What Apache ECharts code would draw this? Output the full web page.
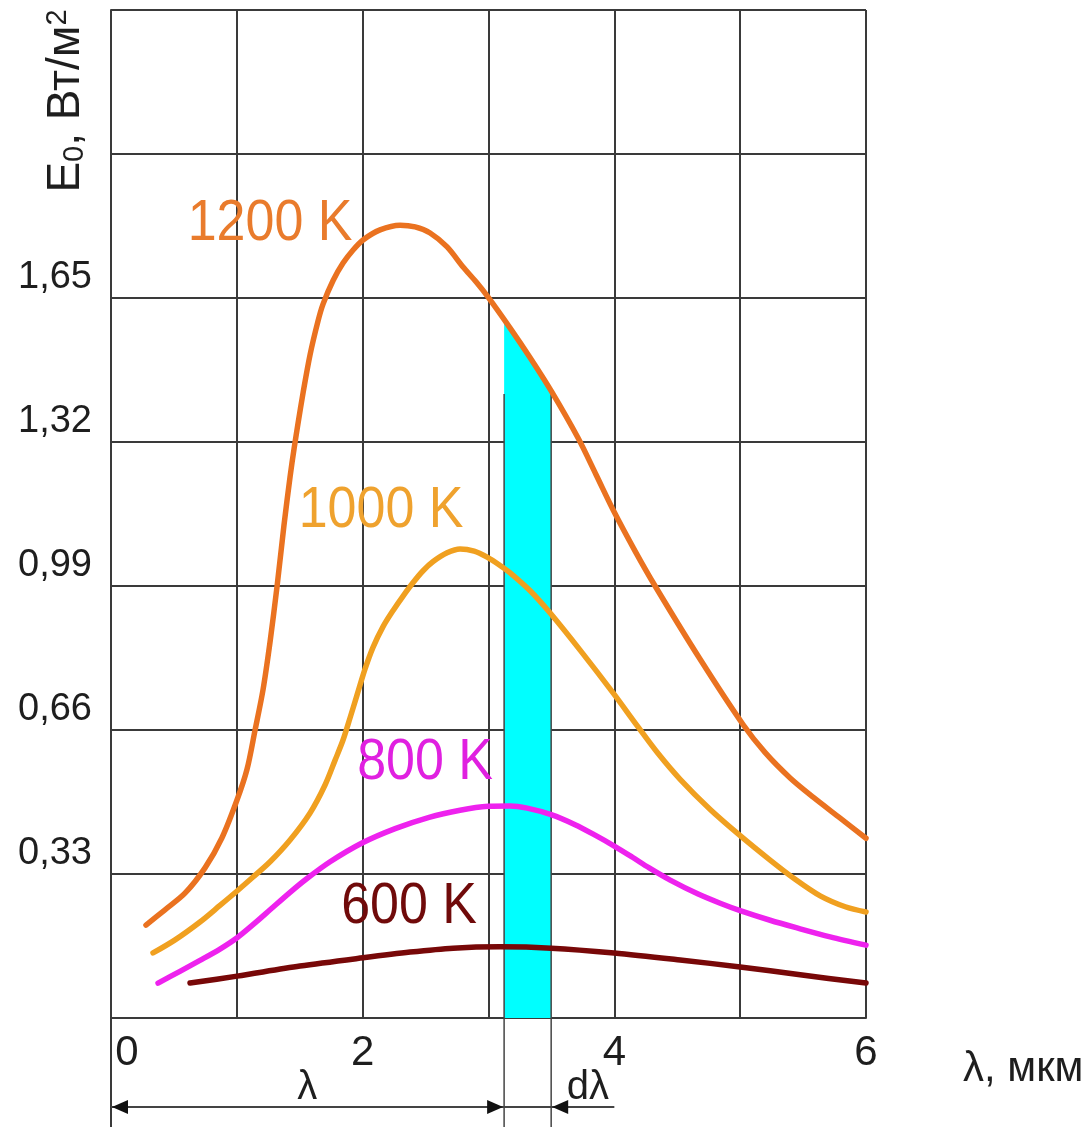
<!DOCTYPE html>
<html>
<head>
<meta charset="utf-8">
<script src="https://cdn.jsdelivr.net/npm/echarts@6/dist/echarts.min.js"></script>
<style>
  html, body { margin: 0; padding: 0; background: #fff; }
  #chart { width: 1083px; height: 1127px; }
</style>
</head>
<body>
<div id="chart"></div>
<script>
// wavelength (mkm) / E0 pairs
const curve1200 = [[0.278, 0.213], [0.429, 0.248], [0.588, 0.286], [0.747, 0.344], [0.882, 0.413],
    [1.002, 0.500], [1.081, 0.570], [1.145, 0.660], [1.208, 0.752], [1.264, 0.862], [1.320, 0.990],
    [1.375, 1.130], [1.423, 1.240], [1.455, 1.305], [1.486, 1.362], [1.526, 1.432], [1.582, 1.520],
    [1.645, 1.597], [1.685, 1.636], [1.765, 1.690], [1.844, 1.730], [1.924, 1.760], [2.003, 1.783],
    [2.138, 1.806], [2.297, 1.817], [2.417, 1.813], [2.536, 1.799], [2.671, 1.767], [2.798, 1.721],
    [2.901, 1.687], [2.997, 1.652], [3.172, 1.581], [3.331, 1.513], [3.498, 1.437], [3.712, 1.329],
    [3.855, 1.245], [3.998, 1.160], [4.165, 1.070], [4.324, 0.990], [4.682, 0.822], [5.024, 0.672],
    [5.199, 0.608], [5.397, 0.550], [5.580, 0.506], [5.795, 0.458], [6.000, 0.412]];
const curve1000 = [[0.334, 0.149], [0.509, 0.179], [0.707, 0.220], [0.866, 0.258], [1.002, 0.291],
    [1.129, 0.323], [1.264, 0.358], [1.423, 0.408], [1.582, 0.470], [1.701, 0.534], [1.781, 0.591],
    [1.844, 0.637], [1.900, 0.688], [1.955, 0.740], [2.019, 0.800], [2.083, 0.850], [2.162, 0.897],
    [2.242, 0.934], [2.321, 0.967], [2.401, 0.998], [2.480, 1.025], [2.560, 1.046], [2.671, 1.066],
    [2.774, 1.075], [2.886, 1.070], [2.989, 1.056], [3.092, 1.037], [3.172, 1.020], [3.331, 0.979],
    [3.490, 0.928], [3.728, 0.843], [3.990, 0.745], [4.181, 0.670], [4.348, 0.606], [4.523, 0.547],
    [4.762, 0.478], [5.000, 0.418], [5.238, 0.362], [5.437, 0.318], [5.636, 0.280], [5.835, 0.255],
    [6.000, 0.243]];
const curve800 = [[0.374, 0.080], [0.548, 0.107], [0.707, 0.132], [0.866, 0.158], [1.002, 0.184],
    [1.145, 0.218], [1.264, 0.248], [1.423, 0.288], [1.550, 0.318], [1.741, 0.358], [1.995, 0.401],
    [2.258, 0.434], [2.528, 0.460], [2.774, 0.476], [2.997, 0.485], [3.172, 0.486], [3.307, 0.481],
    [3.498, 0.466], [3.688, 0.443], [3.847, 0.419], [4.006, 0.393], [4.141, 0.369], [4.277, 0.344],
    [4.444, 0.316], [4.666, 0.284], [4.841, 0.263], [5.000, 0.246], [5.238, 0.224], [5.445, 0.207],
    [5.715, 0.186], [6.000, 0.167]];
const curve600 = [[0.628, 0.080], [1.002, 0.096], [1.502, 0.119], [2.003, 0.138], [2.377, 0.151],
    [2.719, 0.160], [3.092, 0.163], [3.498, 0.160], [3.998, 0.149], [4.523, 0.133], [5.000, 0.117],
    [5.477, 0.099], [6.000, 0.080]];
// shaded strip d-lambda under the 1200 K curve
const bandTop = [[3.124, 1.600], [3.172, 1.581], [3.331, 1.513], [3.498, 1.437]];
const bandEdges = [3.124, 3.498];

const yTickLabels = ['0,33', '0,66', '0,99', '1,32', '1,65'];
const xTickLabels = ['0', '2', '4', '6'];

const font = 'Liberation Sans, Arial, sans-serif';
const gridColor = '#3a3a3a';
const textColor = '#1e1e1e';

const chart = echarts.init(document.getElementById('chart'));

function curve(name, data, color) {
    return {
        name: name,
        type: 'line',
        data: data,
        smooth: 0.3,
        symbol: 'none',
        silent: true,
        z: 5,
        lineStyle: { color: color, width: 5.5, cap: 'round', join: 'round' },
        itemStyle: { color: color }
    };
}

const option = {
    animation: false,
    backgroundColor: '#fff',
    grid: { left: 111, right: 217, top: 10, bottom: 109, outerBoundsMode: 'none' },
    xAxis: {
        type: 'value',
        min: 0,
        max: 6,
        interval: 1,
        name: 'λ, мкм',
        nameLocation: 'end',
        nameGap: 97,
        nameTextStyle: {
            fontFamily: font, fontSize: 42, color: textColor,
            align: 'left', verticalAlign: 'top', lineHeight: 42, padding: [30, 0, 0, 0]
        },
        axisLine: { lineStyle: { color: gridColor, width: 2 } },
        axisTick: { show: false },
        splitLine: { lineStyle: { color: gridColor, width: 2 } },
        axisLabel: {
            margin: 14,
            fontFamily: font,
            fontSize: 42,
            lineHeight: 42,
            color: textColor,
            formatter: function (v) {
                const s = String(v);
                if (!xTickLabels.includes(s)) return '';
                return v === 0 ? '{z|' + s + '}' : '{n|' + s + '}';
            },
            rich: {
                z: { fontFamily: font, fontSize: 42, lineHeight: 42, color: textColor, padding: [0, 0, 0, 32] },
                n: { fontFamily: font, fontSize: 42, lineHeight: 42, color: textColor }
            }
        }
    },
    yAxis: {
        type: 'value',
        min: 0,
        max: 2.31,
        interval: 0.33,
        axisLine: { show: true, lineStyle: { color: gridColor, width: 2 } },
        axisTick: { show: false },
        splitLine: { lineStyle: { color: gridColor, width: 2 } },
        axisLabel: {
            margin: 19,
            fontFamily: font,
            fontSize: 38,
            lineHeight: 40,
            color: textColor,
            verticalAlign: 'bottom',
            formatter: function (v) {
                const s = v.toFixed(2).replace('.', ',');
                return yTickLabels.includes(s) ? s : '';
            }
        }
    },
    series: [
        {
            name: 'band',
            type: 'line',
            data: bandTop,
            symbol: 'none',
            silent: true,
            z: 2,
            lineStyle: { width: 0 },
            areaStyle: { color: '#00FFFF', opacity: 1 }
        },
        curve('1200 K', curve1200, '#EA7220'),
        curve('1000 K', curve1000, '#F0A020'),
        curve('800 K', curve800, '#EE22EE'),
        curve('600 K', curve600, '#780808')
    ]
};
chart.setOption(option);

// Annotations: curve labels, axis title, lambda / d-lambda arrows
const px = function (x, y) { return chart.convertToPixel({ gridIndex: 0 }, [x, y]); };
const H = chart.getHeight();
const origin = px(0, 0);
const arrowY = origin[1] + 89;

const curveLabels = [
    { text: '1200 K', at: [1.264, 1.820], color: '#E97B2C' },
    { text: '1000 K', at: [2.146, 1.162], color: '#EFA22E' },
    { text: '800 K', at: [2.496, 0.584], color: '#E020E0' },
    { text: '600 K', at: [2.369, 0.254], color: '#700A0A' }
];

const graphics = [];
curveLabels.forEach(function (l) {
    const p = px(l.at[0], l.at[1]);
    graphics.push({
        type: 'text', x: p[0], y: p[1], scaleY: 1.12, z: 10, silent: true,
        style: { text: l.text, fontFamily: font, fontSize: 52, fill: l.color, align: 'center', verticalAlign: 'middle' }
    });
});

// y axis title
graphics.push({
    type: 'text', x: 66, y: 101, rotation: Math.PI / 2, z: 10, silent: true,
    style: {
        text: '{b|E}{s|0}{b|, Вт/м}{p|2}',
        align: 'center', verticalAlign: 'middle',
        rich: {
            b: { fontFamily: font, fontSize: 46, lineHeight: 46, fill: textColor, color: textColor },
            s: { fontFamily: font, fontSize: 29, lineHeight: 29, fill: textColor, color: textColor, verticalAlign: 'bottom' },
            p: { fontFamily: font, fontSize: 29, lineHeight: 29, fill: textColor, color: textColor, verticalAlign: 'top' }
        }
    }
});

// y axis line running on below the plot
graphics.push({
    type: 'line', z: 3, silent: true,
    shape: { x1: origin[0], y1: origin[1], x2: origin[0], y2: H },
    style: { stroke: gridColor, lineWidth: 2 }
});

// edges of the d-lambda strip
bandEdges.forEach(function (x) {
    const top = px(x, 1.43);
    graphics.push({
        type: 'line', z: 3, silent: true,
        shape: { x1: top[0], y1: top[1], x2: top[0], y2: H },
        style: { stroke: '#444', lineWidth: 1.5 }
    });
});

// arrow line
const xStart = origin[0];
const xEnd = px(4.0, 0)[0];
const xL = px(bandEdges[0], 0)[0];
const xR = px(bandEdges[1], 0)[0];
graphics.push({
    type: 'line', z: 3, silent: true,
    shape: { x1: xStart, y1: arrowY, x2: xEnd, y2: arrowY },
    style: { stroke: '#444', lineWidth: 2 }
});
function head(tipX, dir) {
    return {
        type: 'polygon', z: 4, silent: true,
        shape: { points: [[tipX, arrowY], [tipX + dir * 16, arrowY - 7], [tipX + dir * 16, arrowY + 7]] },
        style: { fill: '#111' }
    };
}
graphics.push(head(xStart + 1, 1));
graphics.push(head(xL - 1, -1));
graphics.push(head(xR + 1, 1));

graphics.push({
    type: 'text', x: px(1.56, 0)[0], y: origin[1] + 70, z: 10, silent: true,
    style: { text: 'λ', fontFamily: font, fontSize: 40, fill: textColor, align: 'center', verticalAlign: 'middle' }
});
graphics.push({
    type: 'text', x: px(3.79, 0)[0], y: origin[1] + 70, z: 10, silent: true,
    style: { text: 'dλ', fontFamily: font, fontSize: 40, fill: textColor, align: 'center', verticalAlign: 'middle' }
});

chart.setOption({ graphic: graphics });
</script>
</body>
</html>
